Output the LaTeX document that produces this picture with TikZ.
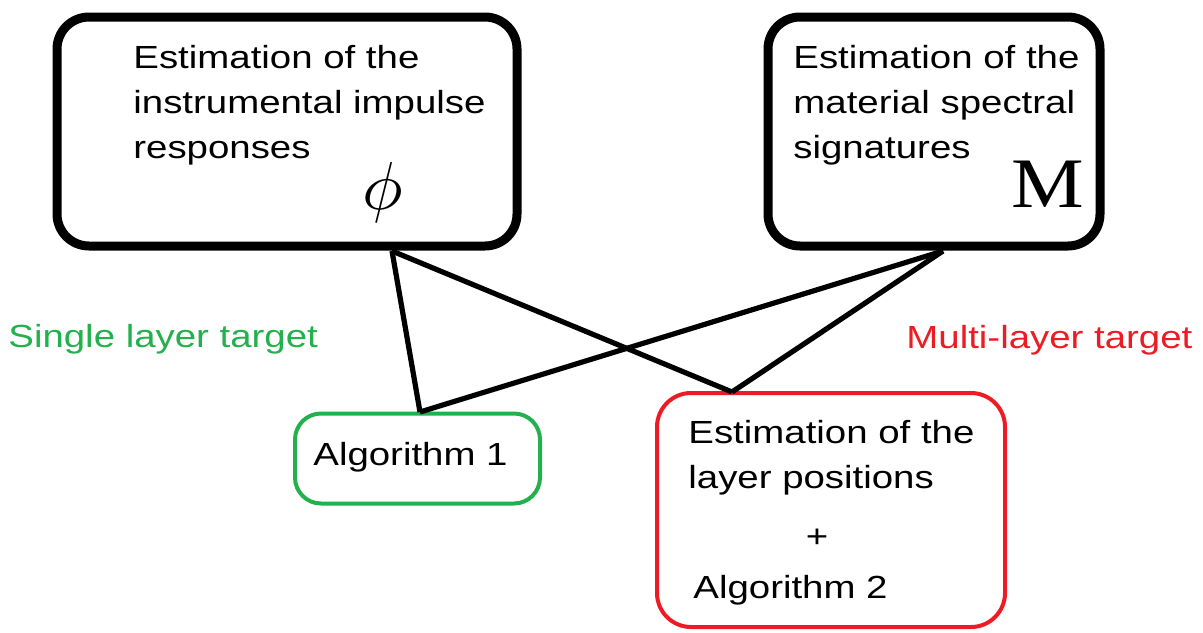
\documentclass[tikz,border=0pt]{standalone}
\usepackage{fontspec}
\setmainfont[FakeStretch=1.2]{Liberation Sans}
\newfontfamily\bigserif[FakeStretch=1.15]{Liberation Serif}
\definecolor{paintgreen}{HTML}{22B14C}
\definecolor{paintred}{HTML}{ED1C24}
\tikzset{
  estbox/.style={draw, line width=4.5pt, rounded corners=16pt, inner sep=0pt},
  algbox/.style={draw, line width=2pt, rounded corners=13pt, inner sep=0pt},
  txt/.style={anchor=base west, inner sep=0pt, font=\fontsize{16}{22.5}\selectfont},
  link/.style={line width=2.6pt, line join=miter}
}
\begin{document}
\begin{tikzpicture}[x=0.5pt, y=-0.5pt]
\useasboundingbox (0,0) rectangle (1203,632);
% boxes
\node[estbox, minimum width=230pt, minimum height=114.5pt] (imp) at (287,131.5) {};
\node[estbox, minimum width=166pt, minimum height=114.5pt] (mat) at (934,131.5) {};
\node[algbox, draw=paintgreen, minimum width=122.5pt, minimum height=45pt] (alg) at (417.5,458.5) {};
\node[algbox, draw=paintred, minimum width=174pt, minimum height=117pt, rounded corners=17pt] (lay) at (831,510) {};
% texts
\node[txt] (impa) at (133,68) {Estimation of the};
\node[txt] (impb) at (133,113) {instrumental impulse};
\node[txt] (impc) at (133,158) {responses};
\node[inner sep=0pt, scale=3.4] (phi) at (383,192) {$\phi$};
\node[txt] (mata) at (793,68) {Estimation of the};
\node[txt] (matb) at (793,113) {material spectral};
\node[txt] (matc) at (793,158) {signatures};
\node[anchor=base, inner sep=0pt] (M) at (1048,207) {\bigserif\fontsize{35.5}{35.5}\selectfont M};
\node[txt] (alga) at (313,465) {Algorithm 1};
\node[txt] (laya) at (688,443) {Estimation of the};
\node[txt] (layb) at (688,488) {layer positions};
\node[txt, anchor=base] (plus) at (817,547) {+};
\node[txt] (layc) at (693,598) {Algorithm 2};
\node[txt, text=paintgreen] (single) at (8,347) {Single layer target};
\node[txt, text=paintred] (multi) at (906,348) {Multi-layer target};
% connectors
\coordinate (impout) at (392,251);
\coordinate (matout) at (943,251);
\coordinate (algin) at (420,412);
\coordinate (layin) at (732,392);
\draw[link] (impout) -- (algin);
\draw[link] (impout) -- (layin);
\draw[link] (algin) -- (matout);
\draw[link] (layin) -- (matout);
\end{tikzpicture}
\end{document}
